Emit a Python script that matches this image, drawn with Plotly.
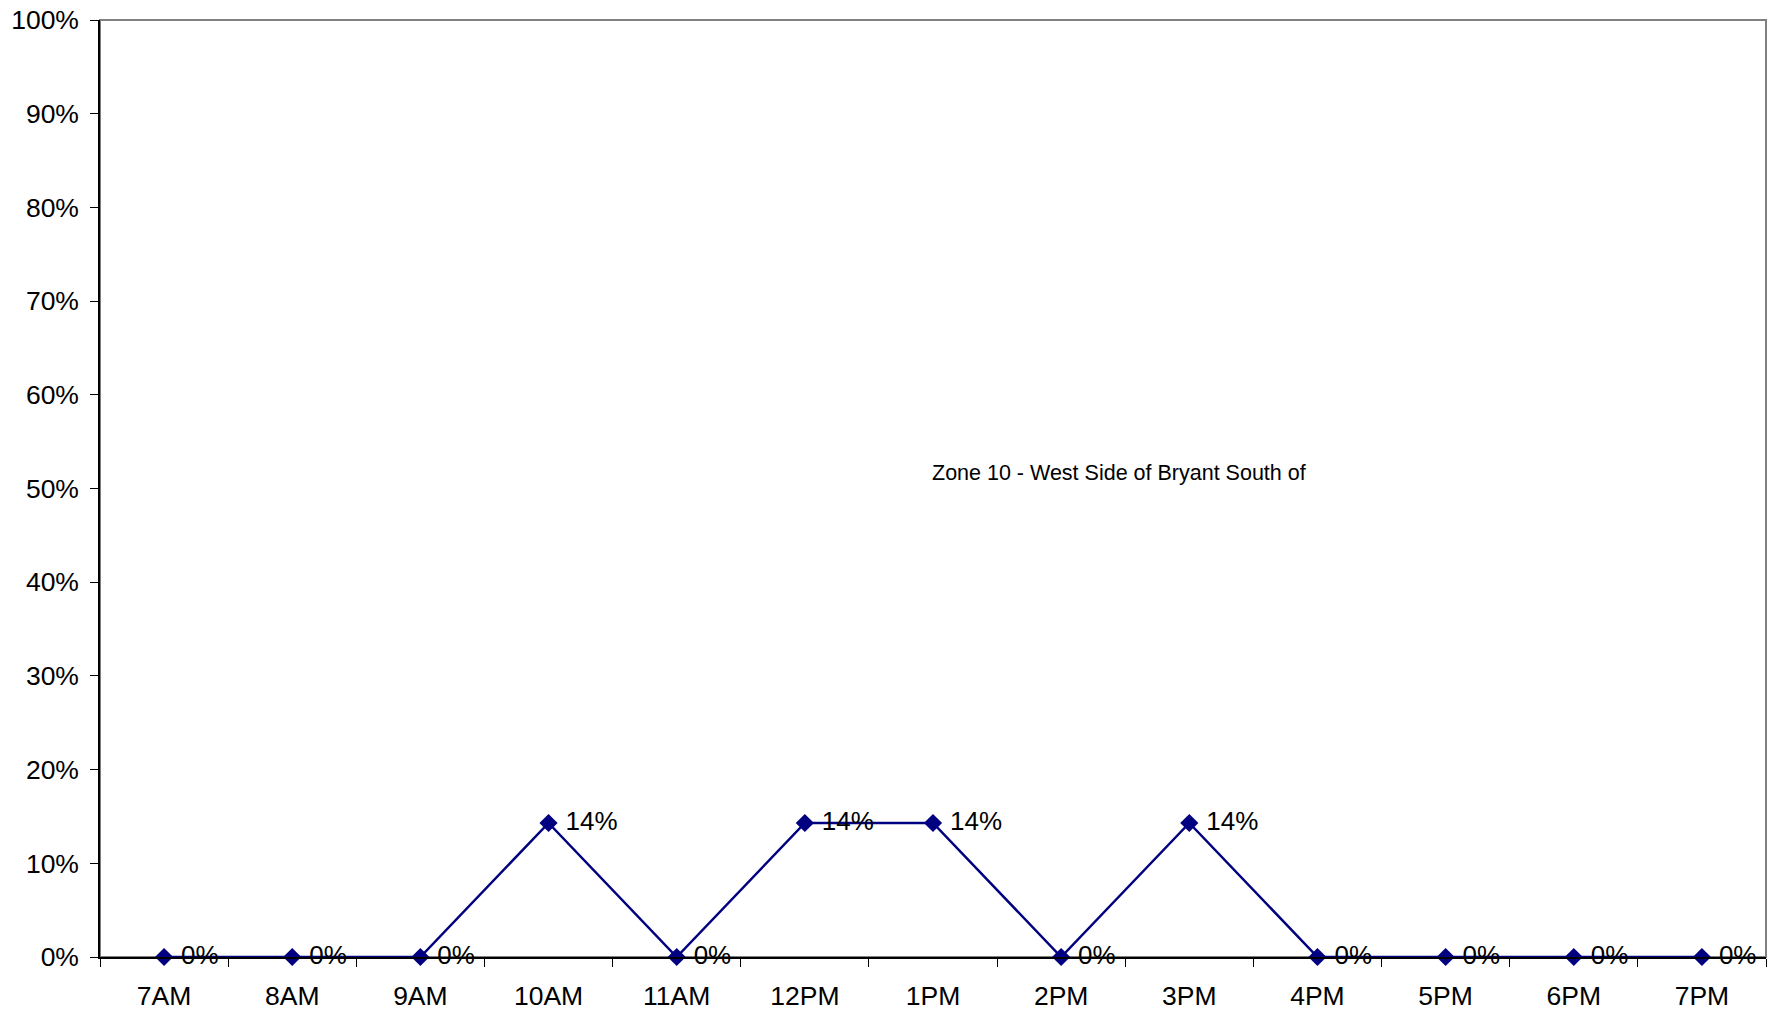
import plotly.graph_objects as go

hours = ["7AM", "8AM", "9AM", "10AM", "11AM", "12PM", "1PM", "2PM", "3PM", "4PM", "5PM", "6PM", "7PM"]
occupancy = [0.0, 0.0, 0.0, 0.143, 0.0, 0.143, 0.143, 0.0, 0.143, 0.0, 0.0, 0.0, 0.0]
title_text = "Zone 10 - West Side of Bryant South of"

FONT = "Liberation Sans, Arial, sans-serif"
NAVY = "#000080"

fig = go.Figure()
fig.add_trace(go.Scatter(
    x=hours, y=occupancy,
    mode="lines+markers+text",
    line=dict(color=NAVY, width=2.5),
    marker=dict(symbol="diamond", size=14, color=NAVY),
    texttemplate=" %{y:.0%}",
    textposition="middle right",
    textfont=dict(family=FONT, size=26, color="#000000"),
    cliponaxis=False,
    showlegend=False,
    hoverinfo="x+y",
))

fig.add_shape(type="rect", xref="paper", yref="paper", x0=0, x1=1, y0=0, y1=1,
              line=dict(color="#808080", width=2), layer="below")

fig.add_annotation(text=title_text, xref="paper", yref="paper",
                   x=0.6116, y=0.5165, xanchor="center", yanchor="middle",
                   showarrow=False, font=dict(family=FONT, size=21.5, color="#000000"))

fig.update_layout(
    width=1776, height=1011,
    margin=dict(l=100, r=10, t=20, b=54),
    paper_bgcolor="white", plot_bgcolor="white",
    font=dict(family=FONT, size=26, color="#000000"),
    xaxis=dict(
        type="category", range=[-0.5, 12.5], automargin=False,
        showline=True, linecolor="#000000", linewidth=1.5,
        ticks="outside", tickson="boundaries", ticklen=8, tickcolor="#000000",
        showgrid=False, zeroline=False,
        tickfont=dict(family=FONT, size=26.5),
        ticklabelstandoff=14,
    ),
    yaxis=dict(
        range=[0, 1], dtick=0.1, tickformat=".0%", automargin=False,
        showline=True, linecolor="#000000", linewidth=1.5,
        ticks="outside", ticklen=8, tickcolor="#000000",
        showgrid=False, zeroline=False,
        tickfont=dict(family=FONT, size=26.5),
        ticklabelstandoff=6,
    ),
)

fig.write_html(
    "out.html",
    config={"displayModeBar": False},
    post_script="document.body.style.margin='0';document.body.style.overflow='hidden';",
)
